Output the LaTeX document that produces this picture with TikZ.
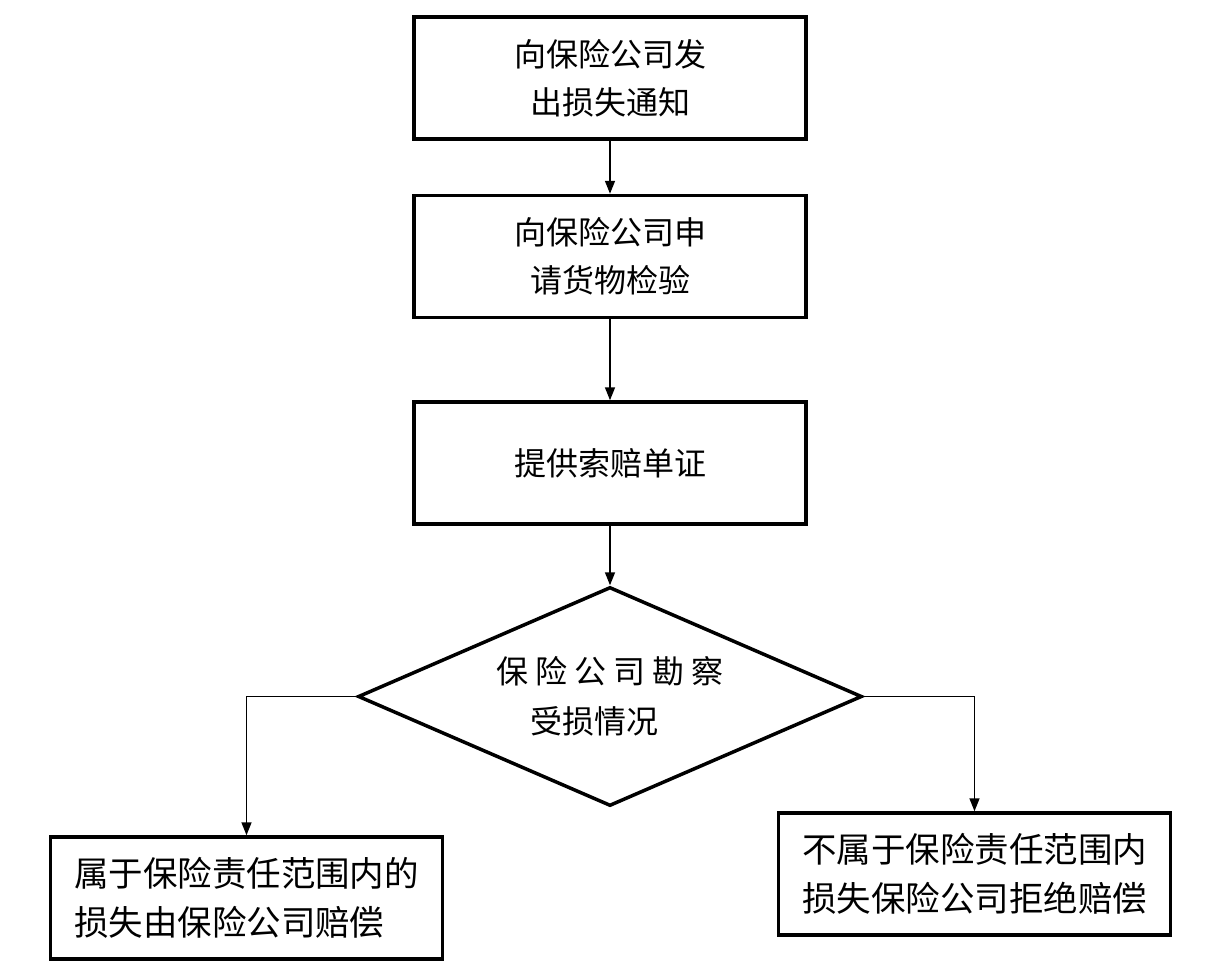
\documentclass[tikz,border=0pt]{standalone}
\usepackage{fontspec}
\setmainfont{Noto Sans CJK SC}
\usetikzlibrary{shapes.geometric,arrows.meta}
\newcommand{\gapch}{\hspace{7pt}}
\tikzset{
  box/.style={draw, line width=3.5pt, minimum width=392pt, minimum height=122pt, inner sep=0pt, align=center, font=\fontsize{32}{48}\selectfont},
  bigbox/.style={box, align=left, font=\fontsize{34.5}{49}\selectfont},
  decide/.style={draw, diamond, line width=3.5pt, minimum width=504pt, minimum height=219pt, aspect=2.3, inner sep=0pt, align=center, font=\fontsize{32}{50}\selectfont},
  conn/.style={line width=1.6pt, -{Triangle[length=13pt,width=10pt]}}
}
\begin{document}
\begin{tikzpicture}[x=1pt,y=-1pt]
\useasboundingbox[fill=white] (0,0) rectangle (1213,979);
\node[box] (b1) at (610,78) {向保险公司发\\出损失通知};
\node[box] (b2) at (610,256.5) {向保险公司申\\请货物检验};
\node[box] (b3) at (610,463) {提供索赔单证};
\node[decide] (d) at (610,696.5) {保\gapch 险\gapch 公\gapch 司\gapch 勘\gapch 察\\受损情况\phantom{受}};
\node[bigbox] (bl) at (246.5,898) {属于保险责任范围内的\\损失由保险公司赔偿};
\node[bigbox] (br) at (974.5,874) {不属于保险责任范围内\\损失保险公司拒绝赔偿};
\draw[conn] (b1) -- (b2);
\draw[conn] (b2) -- (b3);
\draw[conn] (b3) -- (d);
\draw[conn] (d.west) -| (bl.north);
\draw[conn] (d.east) -| (br.north);
\end{tikzpicture}
\end{document}
